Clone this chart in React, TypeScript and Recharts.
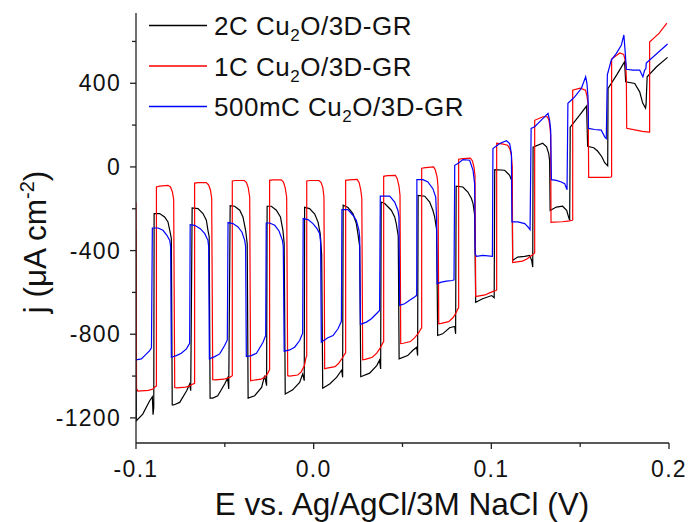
import React from 'react';
import { LineChart, Line, XAxis, YAxis } from 'recharts';

// chopped-light sweeps, [E (V), j (uA cm-2)]
const black2C: [number, number][] = [
  [-0.1, -304], [-0.0998, -1214], [-0.0962, -1182], [-0.0923, -1118], [-0.0908, -1099], [-0.0904, -1185],
  [-0.09, -1150], [-0.0898, -223], [-0.0867, -223], [-0.0839, -239], [-0.082, -263], [-0.081, -303], [-0.0801, -343],
  [-0.0796, -1138], [-0.0788, -1138], [-0.0754, -1126], [-0.0715, -1070], [-0.0698, -1038], [-0.0692, -1070],
  [-0.0684, -196], [-0.0651, -199], [-0.0623, -223], [-0.0604, -255], [-0.0595, -303], [-0.0588, -335],
  [-0.0583, -1105], [-0.0568, -1105], [-0.054, -1094], [-0.0501, -1038], [-0.0484, -1009], [-0.0478, -1062],
  [-0.047, -185], [-0.0445, -188], [-0.0416, -207], [-0.0398, -239], [-0.0383, -303], [-0.0374, -367],
  [-0.0369, -1105], [-0.0332, -1094], [-0.0293, -1054], [-0.0276, -998], [-0.0265, -1046],
  [-0.0262, -188], [-0.0238, -188], [-0.021, -207], [-0.0187, -239], [-0.0173, -303], [-0.0166, -366],
  [-0.016, -1086], [-0.0118, -1066], [-0.0079, -1030], [-0.0062, -990], [-0.0053, -1022],
  [-0.0051, -193], [-0.0023, -199], [0.0006, -225], [0.0025, -265], [0.0037, -320], [0.0045, -420],
  [0.0051, -1058], [0.009, -1038], [0.0129, -1006], [0.0158, -971], [0.0163, -1006],
  [0.0166, -183], [0.0193, -194], [0.0221, -223], [0.024, -271], [0.0249, -319], [0.0259, -380],
  [0.0265, -1003], [0.0315, -986], [0.0355, -950], [0.0371, -923], [0.0377, -966],
  [0.038, -168], [0.04, -175], [0.0437, -207], [0.0456, -239], [0.0465, -271], [0.0476, -330],
  [0.0481, -918], [0.0529, -902], [0.0557, -878], [0.058, -862], [0.0585, -902],
  [0.0588, -136], [0.0625, -140], [0.0653, -168], [0.0671, -207], [0.0681, -239], [0.0692, -300],
  [0.0698, -806], [0.0726, -798], [0.0765, -769], [0.0794, -763], [0.0799, -798],
  [0.0802, -92], [0.084, -96], [0.0868, -120], [0.0888, -151], [0.0897, -175], [0.0906, -230],
  [0.0912, -647], [0.0951, -630], [0.1002, -615], [0.1016, -625],
  [0.1019, -13], [0.1075, -16], [0.1103, -40], [0.1114, -64], [0.1117, -100],
  [0.112, -447], [0.1148, -431], [0.1188, -428], [0.1216, -423], [0.1227, -447], [0.1233, -479],
  [0.1235, 94], [0.1289, 113], [0.1311, 96], [0.1323, 64], [0.1328, 30],
  [0.1331, -208], [0.1366, -192], [0.1401, -188], [0.1424, -208], [0.1435, -240], [0.1441, -255],
  [0.1444, 190], [0.1497, 248], [0.1536, 291],
  [0.1542, 99], [0.1576, 92], [0.1598, 76], [0.1621, 50], [0.1638, 20], [0.1655, 5],
  [0.1657, 375], [0.1705, 439], [0.175, 503],
  [0.1756, 407], [0.1807, 399], [0.1835, 359], [0.1852, 305], [0.1868, 281], [0.1871, 300],
  [0.1877, 431], [0.193, 479], [0.1992, 524],
];

const red1C: [number, number][] = [
  [-0.1, -170], [-0.0997, -1060], [-0.099, -1072], [-0.093, -1068], [-0.0905, -1062], [-0.0891, -1050],
  [-0.0885, -1048], [-0.0885, -96], [-0.0866, -92], [-0.082, -88], [-0.0806, -96], [-0.0795, -120], [-0.0788, -155],
  [-0.0782, -1055], [-0.077, -1056], [-0.072, -1053], [-0.07, -1048], [-0.0685, -1040], [-0.0674, -1036],
  [-0.067, -1034], [-0.067, -77], [-0.065, -75], [-0.0605, -75], [-0.0592, -85], [-0.0581, -110], [-0.0574, -150],
  [-0.0568, -1017], [-0.0555, -1018], [-0.0505, -1015], [-0.0485, -1010], [-0.047, -1005], [-0.0461, -1000],
  [-0.0458, -998], [-0.0458, -67], [-0.044, -65], [-0.039, -65], [-0.0378, -75], [-0.0368, -100], [-0.036, -145],
  [-0.0355, -1022], [-0.034, -1020], [-0.0295, -1015], [-0.0275, -1005], [-0.026, -990], [-0.0251, -974],
  [-0.0248, -970], [-0.0248, -64], [-0.023, -62], [-0.0182, -62], [-0.017, -72], [-0.016, -100], [-0.0152, -145],
  [-0.0146, -998], [-0.0135, -1000], [-0.009, -995], [-0.007, -980], [-0.0052, -950], [-0.0043, -911],
  [-0.0039, -905], [-0.0039, -67], [-0.002, -65], [0.003, -65], [0.0042, -75], [0.0052, -100], [0.0058, -145],
  [0.0062, -965], [0.0075, -962], [0.012, -955], [0.014, -940], [0.016, -915], [0.0176, -893],
  [0.018, -890], [0.018, -64], [0.02, -62], [0.0245, -60], [0.0256, -75], [0.0265, -110], [0.0271, -150],
  [0.0276, -922], [0.029, -920], [0.033, -910], [0.0355, -890], [0.0375, -865], [0.039, -840],
  [0.0394, -835], [0.0394, -45], [0.0415, -42], [0.046, -40], [0.047, -55], [0.048, -90], [0.0486, -135],
  [0.049, -845], [0.0505, -843], [0.0545, -835], [0.057, -815], [0.059, -795], [0.0604, -773],
  [0.0608, -770], [0.0608, -6], [0.063, -3], [0.0675, 0], [0.0685, -15], [0.0695, -50], [0.07, -95],
  [0.0704, -750], [0.0718, -748], [0.076, -740], [0.0785, -720], [0.08, -700], [0.0812, -678],
  [0.0816, -675], [0.0816, 37], [0.084, 40], [0.0882, 42], [0.0893, 30], [0.0902, 0], [0.0908, -40],
  [0.0912, -620], [0.0925, -618], [0.0965, -612], [0.099, -602], [0.101, -595], [0.1026, -591],
  [0.103, -588], [0.103, 113], [0.106, 110], [0.1092, 104], [0.1105, 85], [0.1113, 55], [0.1118, 0],
  [0.112, -457], [0.1135, -455], [0.1175, -450], [0.12, -440], [0.122, -428], [0.124, -414],
  [0.1244, -410], [0.1244, 223], [0.129, 240], [0.1315, 240], [0.1324, 225], [0.133, 190], [0.1334, 150],
  [0.1336, -265], [0.135, -264], [0.14, -262], [0.144, -258], [0.1455, -255],
  [0.1458, -253], [0.1458, 367], [0.15, 377], [0.153, 367], [0.1538, 340], [0.1545, 300],
  [0.1548, -50], [0.16, -50], [0.166, -50], [0.1675, -48],
  [0.1677, -45], [0.1677, 516], [0.1723, 545], [0.1745, 538], [0.1756, 500], [0.176, 420],
  [0.1762, 185], [0.18, 178], [0.185, 170], [0.1888, 166],
  [0.1891, 166], [0.1891, 597], [0.1945, 640], [0.1988, 688],
];

const blue500mC: [number, number][] = [
  [-0.1, -923], [-0.097, -918], [-0.0951, -902], [-0.0923, -878], [-0.0913, -865],
  [-0.0908, -292], [-0.0876, -292], [-0.0848, -303], [-0.0826, -327], [-0.081, -351], [-0.0805, -383],
  [-0.0801, -910], [-0.0773, -902], [-0.0745, -891], [-0.0716, -870], [-0.0698, -843],
  [-0.0695, -276], [-0.067, -279], [-0.0638, -295], [-0.0613, -319], [-0.0595, -351], [-0.0591, -380],
  [-0.0587, -918], [-0.0557, -907], [-0.0529, -894], [-0.0501, -854], [-0.0486, -827],
  [-0.0482, -266], [-0.0454, -271], [-0.0426, -287], [-0.0404, -311], [-0.0388, -351], [-0.0383, -380],
  [-0.0379, -907], [-0.0351, -902], [-0.0322, -891], [-0.0285, -838], [-0.027, -806],
  [-0.0267, -268], [-0.0248, -268], [-0.0219, -279], [-0.0195, -306], [-0.0176, -351], [-0.0171, -380],
  [-0.0166, -881], [-0.0135, -875], [-0.0107, -862], [-0.0079, -830], [-0.0062, -795],
  [-0.0059, -247], [-0.0032, -252], [-0.0004, -271], [0.0019, -295], [0.0034, -319], [0.0039, -360],
  [0.0043, -838], [0.008, -817], [0.0109, -806], [0.0137, -774], [0.0156, -738],
  [0.0159, -204], [0.0193, -204], [0.0221, -231], [0.024, -255], [0.0255, -303], [0.0259, -340],
  [0.0263, -753], [0.0297, -742], [0.0325, -726], [0.0353, -702], [0.0371, -686],
  [0.0375, -140], [0.0428, -140], [0.0456, -168], [0.0474, -207], [0.048, -239],
  [0.0484, -662], [0.0512, -654], [0.054, -638], [0.0568, -622], [0.058, -614],
  [0.0581, -61], [0.0615, -61], [0.0643, -72], [0.0671, -104], [0.0687, -144], [0.0692, -250],
  [0.0695, -558], [0.0719, -551], [0.0747, -546], [0.0781, -543], [0.079, -540],
  [0.0794, 8], [0.0812, 16], [0.084, 35], [0.0878, 32], [0.0897, -16], [0.0906, -80],
  [0.0909, -415], [0.0916, -428], [0.0953, -423], [0.1006, -428],
  [0.1009, 88], [0.1047, 112], [0.1085, 125], [0.1103, 112], [0.1113, 64],
  [0.1116, -263], [0.115, -263], [0.1188, -271], [0.1206, -287], [0.1218, -300],
  [0.1224, 184], [0.1244, 192], [0.1281, 224], [0.1319, 256], [0.1328, 224], [0.1334, 176],
  [0.1338, -61], [0.1366, -64], [0.1394, -72], [0.1413, -80], [0.1426, -109],
  [0.1431, 304], [0.1469, 335], [0.1507, 376], [0.1531, 431], [0.1538, 400], [0.1544, 335],
  [0.1547, 184], [0.1581, 179], [0.1619, 176], [0.1638, 144], [0.1647, 136],
  [0.1653, 440], [0.1675, 511], [0.1704, 543], [0.1732, 583], [0.1746, 631], [0.1754, 543],
  [0.176, 467], [0.1797, 463], [0.1835, 463], [0.1853, 431], [0.1863, 463], [0.187, 470],
  [0.1872, 497], [0.1992, 588],
];

const seriesNames = ['2C', '1C', '500mC'];
const xTicks = [-0.1, -0.05, 0, 0.05, 0.1, 0.15, 0.2];
const yTicks = [-1200, -1000, -800, -600, -400, -200, 0, 200, 400, 600];

const FONT = 'Arial, "Liberation Sans", sans-serif';
const AXIS = '#222';

const toRows = (pts: [number, number][]) => pts.map(([E, j]) => ({ E, j }));

const series = [
  { name: seriesNames[0], color: '#000000', rows: toRows(black2C) },
  { name: seriesNames[1], color: '#ff0000', rows: toRows(red1C) },
  { name: seriesNames[2], color: '#0000ff', rows: toRows(blue500mC) },
];

const XTick = (props: any) => {
  const { x, y, payload } = props;
  const v = payload.value;
  const major = Math.abs(v * 10 - Math.round(v * 10)) < 1e-6;
  return (
    <g>
      <line x1={x} x2={x} y1={y} y2={y + (major ? 6 : 4)} stroke={AXIS} strokeWidth={1.3} />
      {major && (
        <text x={x} y={y + 34} textAnchor="middle" fontSize={23} letterSpacing={1.3} fontFamily={FONT} fill="#111">
          {v.toFixed(1)}
        </text>
      )}
    </g>
  );
};

const YTick = (props: any) => {
  const { x, y, payload } = props;
  const v = payload.value;
  const major = v % 400 === 0;
  return (
    <g>
      <line x1={x} x2={x - (major ? 6 : 4)} y1={y} y2={y} stroke={AXIS} strokeWidth={1.3} />
      {major && (
        <text x={x - 15} y={y + 8} textAnchor="end" fontSize={23} letterSpacing={1.3} fontFamily={FONT} fill="#111">
          {v}
        </text>
      )}
    </g>
  );
};

const XLabel = () => (
  <text x={402} y={515} textAnchor="middle" fontSize={31.5} fontFamily={FONT} fill="#111">
    E vs. Ag/AgCl/3M NaCl (V)
  </text>
);

const YLabel = () => (
  <text x={46} y={242} transform="rotate(-90 46 242)" textAnchor="middle" fontSize={31.5} fontFamily={FONT} fill="#111">
    j (μA cm<tspan fontSize={20} dy={-12}>-2</tspan>
    <tspan dy={12}>)</tspan>
  </text>
);

const LegendBox = () => (
  <svg width={689} height={522} style={{ position: 'absolute', left: 0, top: 0, pointerEvents: 'none' }}>
    {series.map((s, i) => {
      const base = 35 + i * 40.5;
      return (
        <g key={s.name}>
          <line x1={149} x2={207} y1={base - 9.5} y2={base - 9.5} stroke={s.color} strokeWidth={1.3} />
          <text x={214} y={base} fontSize={26} letterSpacing={0.5} fontFamily={FONT} fill="#111">
            {s.name} Cu<tspan fontSize={17} dy={6}>2</tspan>
            <tspan dy={-6}>O/3D-GR</tspan>
          </text>
        </g>
      );
    })}
  </svg>
);

export default function App() {
  return (
    <div style={{ position: 'absolute', left: 0, top: 0, width: 689, height: 522, background: '#fff' }}>
      <LineChart width={689} height={522} margin={{ top: 13, right: 20, bottom: 0, left: 0 }}>
        <XAxis
          dataKey="E"
          type="number"
          domain={[-0.1, 0.2]}
          ticks={xTicks}
          interval={0}
          allowDataOverflow
          height={79}
          tickSize={0}
          tickMargin={0}
          tickLine={false}
          tick={(p: any) => <XTick {...p} />}
          axisLine={{ stroke: AXIS, strokeWidth: 1.3 }}
          label={<XLabel />}
        />
        <YAxis
          type="number"
          domain={[-1320, 736]}
          ticks={yTicks}
          interval={0}
          allowDataOverflow
          width={136}
          tickSize={0}
          tickMargin={0}
          tickLine={false}
          tick={(p: any) => <YTick {...p} />}
          axisLine={{ stroke: AXIS, strokeWidth: 1.3 }}
          label={<YLabel />}
        />
        {series.map((s) => (
          <Line
            key={s.name}
            data={s.rows}
            dataKey="j"
            type="linear"
            stroke={s.color}
            strokeWidth={1.2}
            dot={false}
            activeDot={false}
            isAnimationActive={false}
          />
        ))}
      </LineChart>
      <LegendBox />
    </div>
  );
}
